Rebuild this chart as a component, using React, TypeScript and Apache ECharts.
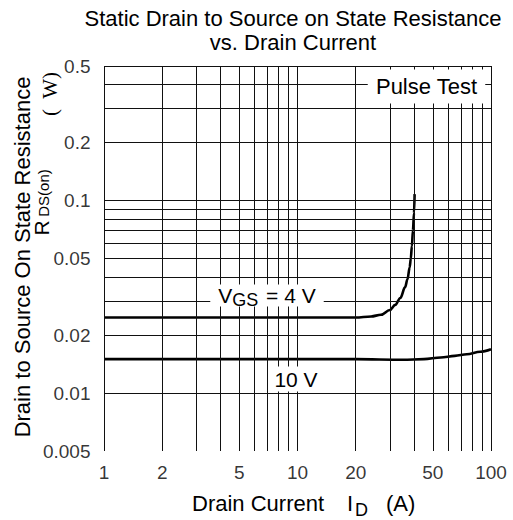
import React, { useEffect, useRef } from 'react';
import * as echarts from 'echarts';

// Grid lines of the log-log chart
const xGridValues = [1, 2, 3, 4, 5, 6, 7, 8, 9, 10, 20, 30, 40, 50, 60, 70, 80, 90, 100];
const yGridValues = [0.005, 0.006, 0.007, 0.008, 0.009, 0.01, 0.02, 0.03, 0.04, 0.05, 0.06, 0.07, 0.08, 0.09, 0.1, 0.2, 0.3, 0.4, 0.5];

// Tick labels
const xTickLabels = [1, 2, 5, 10, 20, 50, 100];
const yTickLabels = [0.005, 0.01, 0.02, 0.05, 0.1, 0.2, 0.5];

// VGS = 4 V curve
const vgs4Current = [1, 10, 20, 24, 27, 30, 32, 34, 36, 37, 38, 38.5, 39, 39.5, 40, 40.3];
const vgs4Resistance = [0.0247, 0.0247, 0.0247, 0.025, 0.0255, 0.027, 0.0287, 0.0312, 0.0355, 0.039, 0.045, 0.05, 0.058, 0.07, 0.086, 0.108];

// VGS = 10 V curve
const vgs10Current = [1, 20, 35, 45, 55, 65, 75, 88, 100];
const vgs10Resistance = [0.015, 0.015, 0.0149, 0.015, 0.0153, 0.0156, 0.0159, 0.0164, 0.0169];

const X_MIN = 1;
const X_MAX = 100;
const Y_MIN = 0.005;
const Y_MAX = 0.5;

const FONT = "'Liberation Sans', Arial, Helvetica, sans-serif";
const SERIF = "'Liberation Serif', 'DejaVu Serif', serif";

export default function App() {
  const ref = useRef<HTMLDivElement>(null);

  useEffect(() => {
    if (!ref.current) return;
    const chart = echarts.init(ref.current, undefined, { renderer: 'svg' });

    const hiddenAxis = {
      axisLine: { show: false },
      axisTick: { show: false },
      axisLabel: { show: false },
      splitLine: { show: false },
    };

    const curveStyle = {
      type: 'line',
      showSymbol: false,
      symbol: 'none',
      smooth: 0.35,
      smoothMonotone: 'x',
      lineStyle: { color: '#000', width: 2.6 },
      silent: true,
      z: 3,
    };

    const option: any = {
      animation: false,
      backgroundColor: '#fff',
      grid: { left: 104, right: 22, top: 66, bottom: 69 },
      xAxis: { type: 'log', logBase: 10, min: X_MIN, max: X_MAX, ...hiddenAxis },
      yAxis: { type: 'log', logBase: 10, min: Y_MIN, max: Y_MAX, ...hiddenAxis },
      series: [
        {
          type: 'line',
          name: 'grid',
          data: [],
          silent: true,
          z: 1,
          markLine: {
            silent: true,
            symbol: ['none', 'none'],
            label: { show: false },
            lineStyle: { color: '#111', width: 1, type: 'solid' },
            emphasis: { disabled: true },
            data: [
              ...xGridValues.map((v) => ({ xAxis: v })),
              ...yGridValues.map((v) => ({ yAxis: v })),
            ],
          },
        },
        {
          ...curveStyle,
          name: 'VGS = 4 V',
          data: vgs4Current.map((x, i) => [x, vgs4Resistance[i]]),
        },
        {
          ...curveStyle,
          name: '10 V',
          data: vgs10Current.map((x, i) => [x, vgs10Resistance[i]]),
        },
        {
          type: 'scatter',
          name: 'xLabels',
          silent: true,
          clip: false,
          symbolSize: 1,
          itemStyle: { color: 'rgba(0,0,0,0)' },
          data: xTickLabels.map((v) => [v, Y_MIN]),
          label: {
            show: true,
            position: 'bottom',
            distance: 11,
            formatter: (p: any) => String(p.value[0]),
            fontSize: 19,
            color: '#000',
            fontFamily: FONT,
          },
        },
        {
          type: 'scatter',
          name: 'yLabels',
          silent: true,
          clip: false,
          symbolSize: 1,
          itemStyle: { color: 'rgba(0,0,0,0)' },
          data: yTickLabels.map((v) => [X_MIN, v]),
          label: {
            show: true,
            position: 'left',
            distance: 13,
            formatter: (p: any) => String(p.value[1]),
            fontSize: 19,
            color: '#000',
            fontFamily: FONT,
          },
        },
      ],
      graphic: [
        {
          type: 'text', x: 293, y: 18.5, z: 50,
          style: { text: 'Static Drain to Source on State Resistance', fontSize: 22, fontFamily: FONT, fill: '#000', align: 'center', verticalAlign: 'middle' },
        },
        {
          type: 'text', x: 293, y: 42, z: 50,
          style: { text: 'vs. Drain Current', fontSize: 22, fontFamily: FONT, fill: '#000', align: 'center', verticalAlign: 'middle' },
        },
        {
          type: 'text', x: 22, y: 257, rotation: Math.PI / 2, z: 50,
          style: { text: 'Drain to Source On State Resistance', fontSize: 22, fontFamily: FONT, fill: '#000', align: 'center', verticalAlign: 'middle' },
        },
        {
          type: 'text', x: 41, y: 228, rotation: Math.PI / 2, z: 50,
          style: { text: 'R', fontSize: 21, fontFamily: FONT, fill: '#000', align: 'center', verticalAlign: 'middle' },
        },
        {
          type: 'text', x: 43.5, y: 193, rotation: Math.PI / 2, z: 50,
          style: { text: 'DS(on)', fontSize: 15, fontFamily: FONT, fill: '#000', align: 'center', verticalAlign: 'middle' },
        },
        {
          type: 'text', x: 50, y: 94, rotation: Math.PI / 2, z: 50,
          style: { text: '(  W)', fontSize: 21, fontFamily: SERIF, fill: '#000', align: 'center', verticalAlign: 'middle' },
        },
        {
          type: 'text', x: 192, y: 503, z: 50,
          style: { text: 'Drain Current', fontSize: 22, fontFamily: FONT, fill: '#000', align: 'left', verticalAlign: 'middle' },
        },
        {
          type: 'text', x: 347, y: 503, z: 50,
          style: { text: 'I', fontSize: 22, fontFamily: FONT, fill: '#000', align: 'left', verticalAlign: 'middle' },
        },
        {
          type: 'text', x: 355, y: 510, z: 50,
          style: { text: 'D', fontSize: 18, fontFamily: FONT, fill: '#000', align: 'left', verticalAlign: 'middle' },
        },
        {
          type: 'text', x: 386, y: 503, z: 50,
          style: { text: '(A)', fontSize: 22, fontFamily: FONT, fill: '#000', align: 'left', verticalAlign: 'middle' },
        },
        {
          type: 'text', x: 426.5, y: 86.5, z: 100,
          style: {
            text: 'Pulse Test', fontSize: 22, lineHeight: 22, fontFamily: FONT, fill: '#000',
            align: 'center', verticalAlign: 'middle', backgroundColor: '#fff', padding: [6, 8],
          },
        },
        {
          type: 'text', x: 267, y: 295.5, z: 100,
          style: {
            text: '{v|V}{s|GS}{v| = 4 V}',
            rich: {
              v: { fontSize: 21, lineHeight: 22, fontFamily: FONT, fill: '#000' },
              s: { fontSize: 18, lineHeight: 18, padding: [8, 2, 0, 0], fontFamily: FONT, fill: '#000' },
            },
            align: 'center', verticalAlign: 'middle', backgroundColor: '#fff', padding: [0, 8],
          },
        },
        {
          type: 'text', x: 296, y: 379, z: 100,
          style: {
            text: '10 V', fontSize: 21, lineHeight: 21, fontFamily: FONT, fill: '#000',
            align: 'center', verticalAlign: 'middle', backgroundColor: '#fff', padding: [2, 3],
          },
        },
      ],
    };

    chart.setOption(option);
    return () => chart.dispose();
  }, []);

  return (
    <div
      ref={ref}
      style={{ position: 'fixed', left: 0, top: 0, width: 513, height: 520, background: '#fff' }}
    />
  );
}
